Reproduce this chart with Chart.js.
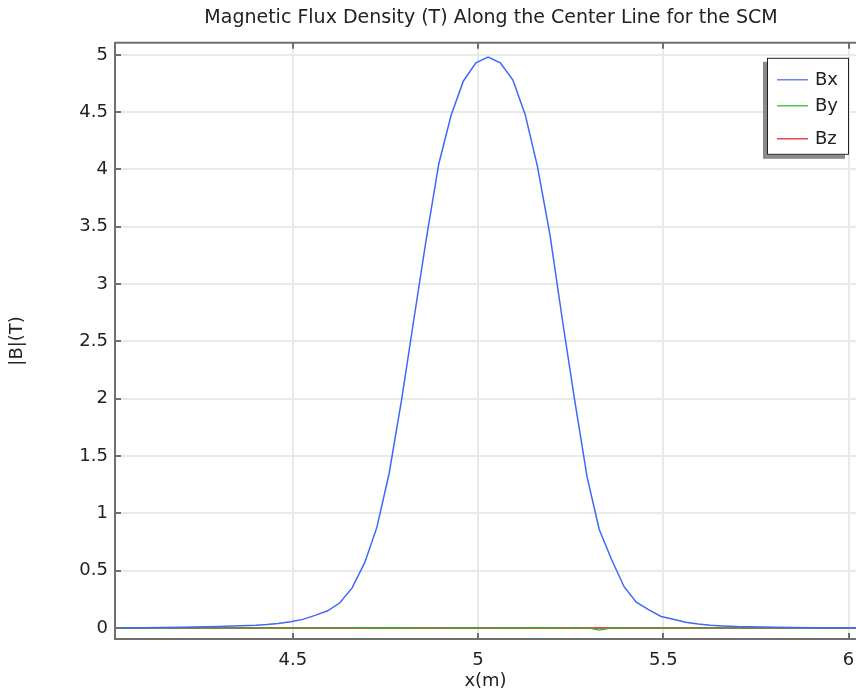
<!DOCTYPE html>
<html>
<head>
<meta charset="utf-8">
<script src="https://cdn.jsdelivr.net/npm/chart.js@4"></script>
<style>
  html, body { margin: 0; padding: 0; background: #fff; overflow: hidden; }
  #wrap { width: 856px; height: 692px; }
</style>
</head>
<body>
<div id="wrap"><canvas id="fluxChart"></canvas></div>
<script>
// positions along the center line (m)
const xPos = [4.02, 4.1, 4.2, 4.3, 4.4, 4.43, 4.46, 4.494, 4.527, 4.56, 4.594, 4.627, 4.66, 4.694, 4.727, 4.76,
              4.794, 4.827, 4.86, 4.894, 4.927, 4.96, 4.994, 5.027, 5.06, 5.094, 5.127, 5.16, 5.194, 5.227, 5.26,
              5.294, 5.327, 5.36, 5.394, 5.427, 5.46, 5.494, 5.527, 5.56, 5.594, 5.627, 5.66, 5.7, 5.8, 5.9, 6.02];
const bx = [0.002, 0.003, 0.006, 0.012, 0.023, 0.03, 0.04, 0.054, 0.075, 0.11, 0.15, 0.22, 0.35, 0.57, 0.88, 1.35,
            2.0, 2.7, 3.39, 4.05, 4.47, 4.77, 4.93, 4.98, 4.93, 4.78, 4.48, 4.03, 3.43, 2.7, 2.0,
            1.32, 0.86, 0.6, 0.36, 0.225, 0.16, 0.1, 0.076, 0.05, 0.035, 0.025, 0.018, 0.012, 0.006, 0.003, 0.002];
const by = [0, 0, 0, 0, 0, 0, 0, 0, 0, 0, 0, 0, 0.002, 0.004, -0.003, 0.003,
            0.001, -0.002, 0.002, 0, 0.001, -0.001, 0.002, 0, 0.001, -0.002, 0.001, 0.003, 0.004, -0.002, 0.003,
            0.002, -0.018, 0.001, 0, 0, 0, 0, 0, 0, 0, 0, 0, 0, 0, 0, 0];
const bz = [0, 0, 0, 0, 0, 0, 0, 0, 0, 0, 0, 0, 0, 0.001, 0, 0,
            0, 0, 0, 0, 0, 0, 0, 0, 0, 0, 0, 0, 0, 0, 0,
            0, 0, 0, 0, 0, 0, 0, 0, 0, 0, 0, 0, 0, 0, 0, 0];
const xTicks = [4.5, 5, 5.5, 6];
const yTicks = [0, 0.5, 1, 1.5, 2, 2.5, 3, 3.5, 4, 4.5, 5];

const FONT = "'DejaVu Sans', sans-serif";
const frameColor = '#6f6f6f';

function pts(ys) {
    return xPos.map(function(x, i) { return { x: x, y: ys[i] }; });
}

// top border, inward tick marks and the boxed legend
const framePlugin = {
    id: 'frame',
    afterLayout: function(chart) {
        // title sits centred over the plot, not the canvas
        const t = chart.titleBlock;
        if (t) { t.left += 63; t.right += 63; }
    },
    afterDatasetsDraw: function(chart) {
        const ctx = chart.ctx;
        const a = chart.chartArea;
        const xs = chart.scales.x, ys = chart.scales.y;
        ctx.save();
        ctx.strokeStyle = frameColor;
        ctx.lineWidth = 2;
        ctx.beginPath();
        ctx.moveTo(a.left, a.top);
        ctx.lineTo(a.right, a.top);
        ctx.stroke();
        ctx.beginPath();
        yTicks.forEach(function(v) {
            const p = Math.round(ys.getPixelForValue(v));
            ctx.moveTo(a.left, p);
            ctx.lineTo(a.left + 6, p);
        });
        xTicks.forEach(function(v) {
            const p = Math.round(xs.getPixelForValue(v));
            ctx.moveTo(p, a.bottom);
            ctx.lineTo(p, a.bottom - 6);
            ctx.moveTo(p, a.top);
            ctx.lineTo(p, a.top + 6);
        });
        ctx.stroke();
        ctx.restore();
    },
    afterDraw: function(chart) {
        const ctx = chart.ctx;
        const a = chart.chartArea;
        const bx0 = a.right - 89, by0 = a.top + 15, w = 82, h = 97;
        ctx.save();
        ctx.fillStyle = '#8a8a8a';
        ctx.fillRect(bx0 - 4, by0 + 4, w, h);
        ctx.fillStyle = '#fff';
        ctx.fillRect(bx0, by0, w, h);
        ctx.strokeStyle = '#222';
        ctx.lineWidth = 1;
        ctx.strokeRect(bx0 + 0.5, by0 + 0.5, w - 1, h - 1);
        const rows = [22, 48, 81];
        ctx.font = '18px ' + FONT;
        ctx.textBaseline = 'middle';
        chart.data.datasets.forEach(function(ds, i) {
            const yy = by0 + rows[i];
            ctx.strokeStyle = ds.borderColor;
            ctx.lineWidth = 1.2;
            ctx.beginPath();
            ctx.moveTo(bx0 + 10, yy);
            ctx.lineTo(bx0 + 41, yy);
            ctx.stroke();
            ctx.fillStyle = '#222';
            ctx.fillText(ds.label, bx0 + 48, yy + 1);
        });
        ctx.restore();
    }
};

new Chart(document.getElementById('fluxChart'), {
    type: 'line',
    data: {
        datasets: [
            { label: 'Bx', data: pts(bx), borderColor: '#4066fa', borderWidth: 1.5 },
            { label: 'By', data: pts(by), borderColor: '#22b822', borderWidth: 1.2 },
            { label: 'Bz', data: pts(bz), borderColor: '#d42020', borderWidth: 1.5 }
        ]
    },
    options: {
        responsive: true,
        maintainAspectRatio: false,
        animation: false,
        layout: { padding: { left: 0, right: 0, top: 0, bottom: 0 } },
        elements: { point: { radius: 0 }, line: { tension: 0 } },
        plugins: {
            legend: { display: false },
            tooltip: { enabled: false },
            title: {
                display: true,
                text: 'Magnetic Flux Density (T) Along the Center Line for the SCM',
                color: '#222',
                font: { family: FONT, size: 19, weight: 'normal' },
                padding: { top: 7, bottom: 13 }
            }
        },
        scales: {
            x: {
                type: 'linear',
                min: 4.02,
                max: 6.02,
                afterBuildTicks: function(s) { s.ticks = xTicks.map(function(v) { return { value: v }; }); },
                afterFit: function(s) { s.height = 53; s.paddingLeft = 0; s.paddingRight = 0; },
                ticks: {
                    autoSkip: false,
                    maxRotation: 0,
                    padding: 11,
                    color: '#222',
                    font: { family: FONT, size: 18 },
                    callback: function(v) { return String(v); }
                },
                grid: { color: '#e9e9e9', lineWidth: 2, drawTicks: false },
                border: { color: frameColor, width: 2 },
                title: {
                    display: true,
                    text: 'x(m)',
                    color: '#222',
                    font: { family: FONT, size: 18 },
                    padding: { top: 0, bottom: 0 }
                }
            },
            y: {
                type: 'linear',
                min: -0.096,
                max: 5.105,
                afterBuildTicks: function(s) { s.ticks = yTicks.map(function(v) { return { value: v }; }); },
                afterFit: function(s) { s.width = 115; s.paddingTop = 0; s.paddingBottom = 0; },
                ticks: {
                    autoSkip: false,
                    padding: 7,
                    color: '#222',
                    font: { family: FONT, size: 18 },
                    callback: function(v) { return String(v); }
                },
                grid: { color: '#e9e9e9', lineWidth: 2, drawTicks: false },
                border: { color: frameColor, width: 2 },
                title: {
                    display: true,
                    text: '|B|(T)',
                    color: '#222',
                    font: { family: FONT, size: 18 },
                    padding: { top: 7, bottom: 0 }
                }
            }
        }
    },
    plugins: [framePlugin]
});
</script>
</body>
</html>
